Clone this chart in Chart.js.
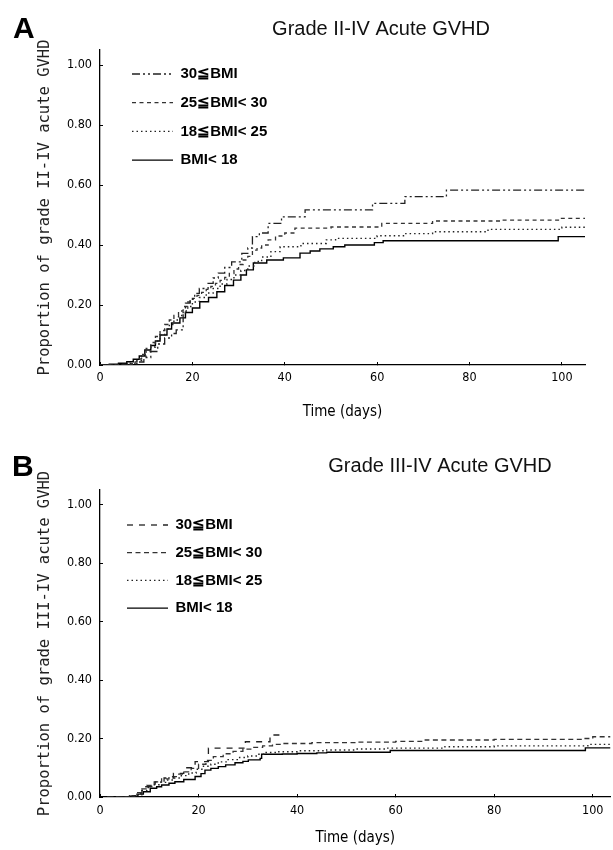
<!DOCTYPE html>
<html><head><meta charset="utf-8">
<script src="https://cdn.jsdelivr.net/npm/chart.js@4.4.1/dist/chart.umd.min.js"></script>
<style>
html,body{margin:0;padding:0;background:#fff;}
#wrap{position:relative;width:613px;height:850px;overflow:hidden;background:#fff;}
canvas{position:absolute;left:0;}
</style></head><body>
<div id="wrap">
<canvas id="cA" width="613" height="425" style="top:0"></canvas>
<canvas id="cB" width="613" height="425" style="top:425px"></canvas>
</div>
<script>
// ---------- data ----------
const seriesLabels = ['30\u2266BMI', '25\u2266BMI< 30', '18\u2266BMI< 25', 'BMI< 18'];
const xTickValues = [0, 20, 40, 60, 80, 100];
const yTickValues = [0, 0.2, 0.4, 0.6, 0.8, 1.0];
const xTitle = 'Time (days)';

// Panel A: Grade II-IV
const aT30 = [0, 6, 8, 9.5, 11, 12.5, 14, 15.5, 16.5, 18, 18.5, 19.5, 20.5, 21.5, 23.4, 24.5, 25.6, 27, 28.5, 30.7, 32, 33, 34.5, 36.4, 39.3, 44.4, 59, 66, 75, 105];
const aV30 = [0, 0.004, 0.01, 0.025, 0.045, 0.07, 0.09, 0.105, 0.117, 0.17, 0.206, 0.22, 0.239, 0.255, 0.272, 0.29, 0.306, 0.325, 0.344, 0.372, 0.39, 0.428, 0.44, 0.472, 0.494, 0.517, 0.539, 0.561, 0.583, 0.583];
const aT25 = [0, 5, 7, 8, 9, 10, 11, 12, 13, 14, 15, 16, 17, 18, 19, 20, 21, 22, 23, 24, 25, 26, 27, 28, 29, 30, 31, 32, 33, 34, 35, 36.4, 38, 40, 42.2, 50, 61, 72, 86.6, 99.6, 105];
const aV25 = [0, 0.002, 0.01, 0.02, 0.035, 0.055, 0.075, 0.095, 0.115, 0.135, 0.15, 0.165, 0.18, 0.195, 0.21, 0.222, 0.232, 0.242, 0.252, 0.262, 0.272, 0.282, 0.292, 0.305, 0.32, 0.335, 0.35, 0.362, 0.383, 0.39, 0.4, 0.417, 0.43, 0.44, 0.456, 0.46, 0.472, 0.48, 0.483, 0.489, 0.489];
const aT18 = [0, 4, 6.5, 8, 9, 10, 11, 12, 13, 14, 15, 16, 17, 18, 19, 20, 21.5, 23, 24.5, 26, 27.5, 29, 30.5, 32, 33.5, 35, 37, 39, 43.5, 49, 51, 60, 66, 72, 84, 100, 105];
const aV18 = [0, 0.002, 0.006, 0.015, 0.03, 0.045, 0.06, 0.08, 0.1, 0.12, 0.135, 0.15, 0.165, 0.18, 0.195, 0.21, 0.225, 0.24, 0.255, 0.27, 0.285, 0.3, 0.315, 0.33, 0.345, 0.36, 0.378, 0.394, 0.405, 0.417, 0.422, 0.431, 0.438, 0.444, 0.452, 0.459, 0.459];
const aTlt = [0, 2, 4, 5.8, 7.2, 8.5, 9.7, 11, 12, 13, 14.5, 15.5, 17.3, 18.5, 20, 21.6, 23.5, 25.3, 27, 28.9, 30.5, 31.7, 33.2, 36.1, 39.7, 43.3, 45.5, 47.6, 50.5, 53, 59.4, 61.3, 99.2, 105];
const aVlt = [0, 0.003, 0.006, 0.011, 0.019, 0.03, 0.05, 0.065, 0.08, 0.1, 0.12, 0.14, 0.157, 0.175, 0.19, 0.211, 0.225, 0.244, 0.265, 0.283, 0.3, 0.317, 0.34, 0.35, 0.357, 0.373, 0.38, 0.387, 0.394, 0.4, 0.408, 0.414, 0.428, 0.428];

// Panel B: Grade III-IV
const bT30 = [1.5, 7, 8.5, 11.2, 13, 14.9, 17, 19.3, 22, 29.5, 34.5, 37];
const bV30 = [0, 0.005, 0.035, 0.052, 0.065, 0.081, 0.1, 0.121, 0.167, 0.189, 0.212, 0.212];
const bT25 = [1.5, 6, 7.5, 8.5, 9.5, 11, 12.5, 14, 15.5, 17, 18.5, 20, 21.5, 23, 25, 27, 29, 31, 33, 35, 37, 43, 52, 60, 66, 80, 98, 100, 103.6];
const bV25 = [0, 0.005, 0.015, 0.028, 0.04, 0.052, 0.062, 0.07, 0.078, 0.086, 0.098, 0.112, 0.125, 0.138, 0.148, 0.156, 0.164, 0.17, 0.175, 0.18, 0.183, 0.186, 0.188, 0.19, 0.195, 0.197, 0.2, 0.206, 0.206];
const bT18 = [1.5, 6, 7.5, 8.5, 9.5, 10.5, 12, 13.5, 15, 16.5, 18, 19.5, 21, 22.5, 24, 26, 28, 30, 32, 33.5, 36, 40, 46, 52, 58, 70, 80, 99, 103.6];
const bV18 = [0, 0.004, 0.012, 0.022, 0.032, 0.042, 0.05, 0.058, 0.065, 0.073, 0.082, 0.095, 0.105, 0.112, 0.12, 0.128, 0.135, 0.14, 0.146, 0.152, 0.155, 0.158, 0.161, 0.164, 0.167, 0.172, 0.175, 0.18, 0.18];
const bTlt = [1.5, 6, 7.7, 8.8, 10.2, 11.5, 12.5, 14, 15.2, 17, 19.3, 20.5, 21.3, 22.5, 24, 25.5, 27.4, 29, 30.1, 32.5, 32.8, 37, 40, 44, 46, 58.9, 98.5, 103.6];
const bVlt = [0, 0.003, 0.01, 0.018, 0.03, 0.035, 0.041, 0.047, 0.052, 0.06, 0.07, 0.08, 0.092, 0.098, 0.104, 0.11, 0.117, 0.122, 0.127, 0.132, 0.146, 0.147, 0.149, 0.151, 0.153, 0.159, 0.168, 0.168];

// ---------- plugins ----------
const panelText = {
  id: 'panelText',
  afterDraw(chart, args, o) {
    const ctx = chart.ctx;
    ctx.save();
    ctx.fillStyle = '#000';
    ctx.font = 'bold 30px "Liberation Sans", Arial, sans-serif';
    ctx.textAlign = 'left';
    ctx.textBaseline = 'alphabetic';
    ctx.fillText(o.letter, o.lx, o.ly);
    ctx.font = '20px "Liberation Sans", Arial, sans-serif';
    ctx.fillStyle = '#111';
    ctx.textAlign = 'center';
    ctx.textBaseline = 'middle';
    ctx.fillText(o.title, o.tx, o.ty);
    ctx.restore();
  }
};
const legendShift = {
  id: 'legendShift',
  afterLayout(chart, args, o) {
    const lg = chart.legend;
    if (lg) {
      const h = lg.height;
      lg.left = chart.chartArea.left + o.dx;
      lg.top = chart.chartArea.top + o.dy;
      lg.bottom = chart.chartArea.bottom;
    }
  }
};

const tickFont = {family: "'DejaVu Sans Condensed', 'DejaVu Sans', sans-serif", size: 12.5};

function legendLabels(chart) {
  const items = Chart.defaults.plugins.legend.labels.generateLabels(chart);
  items.forEach(it => {
    const ds = chart.data.datasets[it.datasetIndex];
    it.lineDash = ds.borderDash;
    it.strokeStyle = ds.borderColor;
    it.lineWidth = ds.borderWidth;
    it.pointStyle = 'line';
  });
  return items;
}

function makeChart(id, c) {
  const styles = [
    {dash: c.dash30, w: 1.3, col: '#222'},
    {dash: c.dash25, w: 1.3, col: '#333'},
    {dash: [1.5, 3], w: 1.4, col: '#222'},
    {dash: [], w: 1.4, col: '#000'}
  ];
  const datasets = c.series.map((s, i) => ({
    label: seriesLabels[i],
    data: s[0].map((t, j) => ({x: t, y: s[1][j]})),
    borderColor: styles[i].col,
    backgroundColor: styles[i].col,
    borderWidth: styles[i].w,
    borderDash: styles[i].dash,
    stepped: true,
    pointRadius: 0,
    fill: false
  }));
  return new Chart(document.getElementById(id), {
    type: 'line',
    data: {datasets},
    options: {
      responsive: false,
      animation: false,
      devicePixelRatio: 1,
      layout: {padding: {left: 0, top: c.top, right: c.right, bottom: 0}},
      plugins: {
        title: {display: false},
        tooltip: {enabled: false},
        legend: {
          position: 'chartArea',
          align: 'start',
          labels: {
            usePointStyle: true,
            pointStyle: 'line',
            pointStyleWidth: 41,
            color: '#000',
            padding: c.legPad,
            generateLabels: legendLabels,
            font: {family: "'Liberation Sans', Arial, sans-serif", size: 15, weight: 'bold'}
          }
        },
        panelText: c.text,
        legendShift: c.shift
      },
      scales: {
        x: {
          type: 'linear', min: 0, max: c.xMax,
          afterFit: s => { s.height = c.xH; },
          afterBuildTicks: s => { s.ticks = xTickValues.map(v => ({value: v})); },
          grid: {drawOnChartArea: false, tickLength: -3, color: '#000', lineWidth: 1},
          border: {color: '#000', width: 1.3},
          ticks: {padding: c.xTickPad, color: '#000', font: tickFont, autoSkip: false, maxRotation: 0, callback: v => String(v)},
          title: {display: true, text: xTitle, color: '#000',
                  font: {family: "'DejaVu Sans Condensed', 'DejaVu Sans', sans-serif", size: 15},
                  padding: {top: 0, bottom: c.xTitlePad}}
        },
        y: {
          type: 'linear', min: 0, max: 1.05,
          afterFit: s => { s.width = 100; },
          afterBuildTicks: s => { s.ticks = yTickValues.map(v => ({value: v})); },
          grid: {drawOnChartArea: false, tickLength: -3, color: '#000', lineWidth: 1},
          border: {color: '#000', width: 1.3},
          ticks: {padding: 11, color: '#000', font: tickFont, autoSkip: false, callback: v => Number(v).toFixed(2)},
          title: {display: true, text: c.yTitle, color: '#222',
                  font: {family: "'DejaVu Sans Mono', monospace", size: 15.5},
                  padding: {top: 35.7, bottom: 0}}
        }
      }
    },
    plugins: [panelText, legendShift]
  });
}

makeChart('cA', {
  series: [[aT30, aV30], [aT25, aV25], [aT18, aV18], [aTlt, aVlt]],
  dash30: [8, 3, 2, 3, 2, 3], dash25: [4, 3.5],
  top: 50, right: 28, xMax: 105, xH: 60, xTickPad: 8.5, xTitlePad: 4, legPad: 13.7,
  yTitle: 'Proportion of grade II-IV acute GVHD',
  text: {letter: 'A', lx: 13, ly: 38, title: 'Grade II-IV Acute GVHD', tx: 381, ty: 29},
  shift: {dx: 18.3, dy: 2.8}
});
makeChart('cB', {
  series: [[bT30, bV30], [bT25, bV25], [bT18, bV18], [bTlt, bVlt]],
  dash30: [6, 6], dash25: [5, 3.5],
  top: 65, right: 0, xMax: 103.6, xH: 53, xTickPad: 9.5, xTitlePad: 3, legPad: 12.7,
  yTitle: 'Proportion of grade III-IV acute GVHD',
  text: {letter: 'B', lx: 12, ly: 51, title: 'Grade III-IV Acute GVHD', tx: 440, ty: 41},
  shift: {dx: 14.3, dy: 14.8}
});
</script>
</body></html>
